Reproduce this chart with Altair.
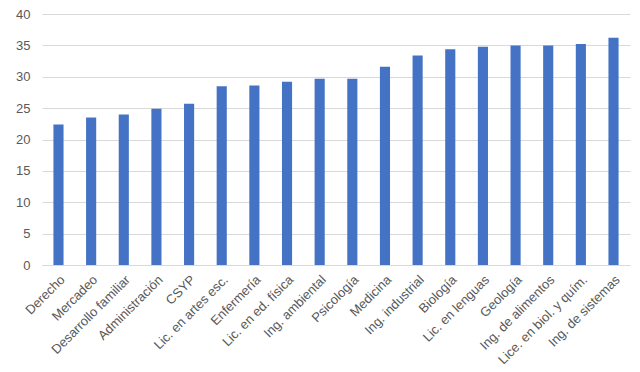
import altair as alt
import pandas as pd

carreras = ["Derecho", "Mercadeo", "Desarrollo familiar", "Administración", "CSYP",
            "Lic. en artes esc.", "Enfermería", "Lic. en ed. física", "Ing. ambiental",
            "Psicología", "Medicina", "Ing. industrial", "Biología", "Lic. en lenguas",
            "Geología", "Ing. de alimentos", "Lice. en biol. y quím.", "Ing. de sistemas"]
valores = [22.4, 23.5, 24.0, 24.9, 25.7, 28.5, 28.6, 29.2, 29.7,
           29.7, 31.6, 33.4, 34.4, 34.8, 35.0, 35.0, 35.2, 36.2]

df = pd.DataFrame({"carrera": carreras, "valor": valores})

FONT = "Liberation Sans"
GRAY = "#595959"

chart = alt.Chart(df).mark_bar(color="#4472C4").encode(
    x=alt.X("carrera:N", sort=carreras, title=None,
            scale=alt.Scale(paddingInner=0.69, paddingOuter=0.35),
            axis=alt.Axis(labelAngle=-45, labelAlign="right", labelBaseline="top",
                          labelFont=FONT, labelFontSize=13, labelColor=GRAY,
                          ticks=False, domainColor="#d9d9d9", labelPadding=8,
                          labelOverlap=False, labelLimit=200)),
    y=alt.Y("valor:Q", title=None,
            scale=alt.Scale(domain=[0, 40]),
            axis=alt.Axis(values=[0, 5, 10, 15, 20, 25, 30, 35, 40],
                          labelFont=FONT, labelFontSize=13, labelColor=GRAY,
                          ticks=False, domain=False, gridColor="#d9d9d9",
                          labelPadding=12)),
).properties(
    width=588, height=251,
    autosize=alt.AutoSizeParams(type="none"),
    padding={"left": 34, "top": 6, "right": 2, "bottom": 106},
).configure_view(stroke=None)

chart.save("out.html", embed_options={"renderer": "svg", "actions": False})
